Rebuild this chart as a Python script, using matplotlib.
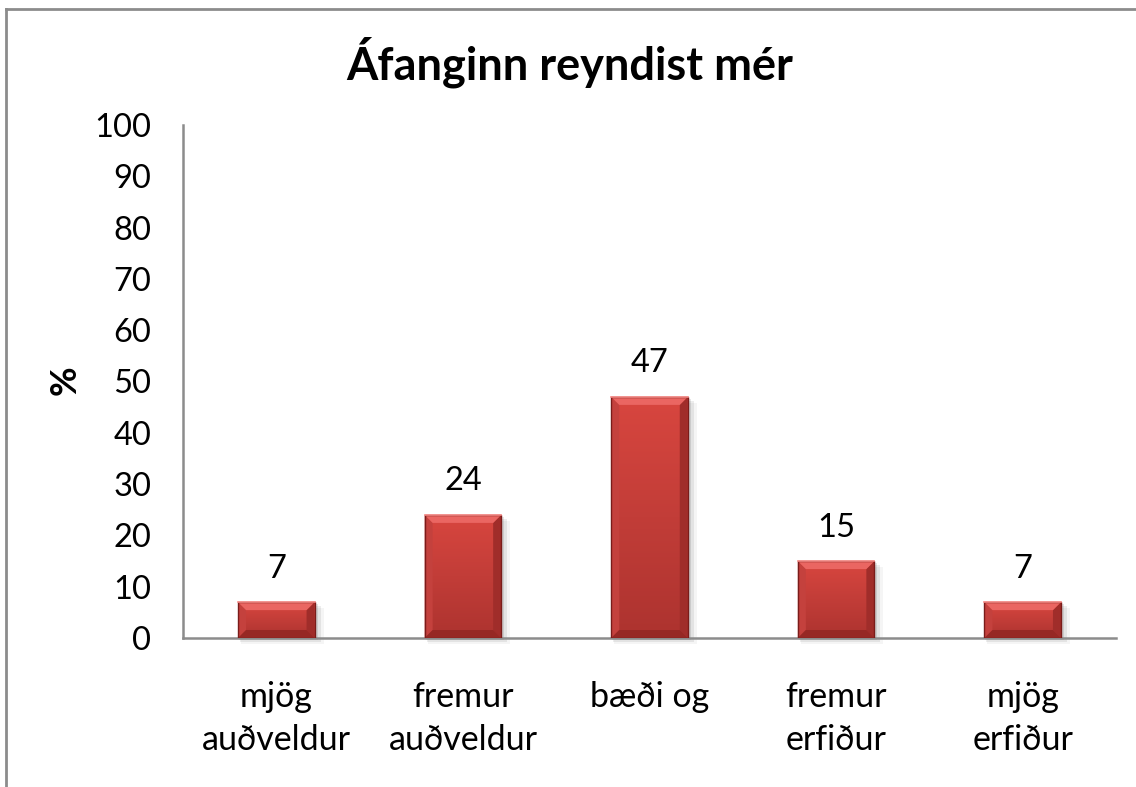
import matplotlib
matplotlib.use("Agg")
import matplotlib.pyplot as plt
import numpy as np
from matplotlib.patches import Polygon, Rectangle
from matplotlib.lines import Line2D
from matplotlib.colors import LinearSegmentedColormap

categories = ["mjög\nauðveldur", "fremur\nauðveldur", "bæði og", "fremur\nerfiður", "mjög\nerfiður"]
values = [7, 24, 47, 15, 7]
yticks = [0, 10, 20, 30, 40, 50, 60, 70, 80, 90, 100]
title = "Áfanginn reyndist mér"
ylabel = "%"

plt.rcParams['font.family'] = ['Lato', 'DejaVu Sans']

fig = plt.figure(figsize=(11.36, 7.87), dpi=100)
ax = fig.add_axes([0.1611, 0.1893, 0.8213, 0.6519])

x = np.arange(len(values))
bars = ax.bar(x, values, width=0.41, color="#c43c38", zorder=3)

ax.set_xlim(-0.5, len(values) - 0.5)
ax.set_ylim(0, 100)
ax.set_yticks(yticks)
ax.set_xticks(x)
ax.set_xticklabels(categories, fontsize=24.5, linespacing=1.42)
ax.tick_params(axis='both', length=0)
ax.tick_params(axis='y', labelsize=23.5, pad=23)
ax.tick_params(axis='x', pad=31)
for s in ['top', 'right']:
    ax.spines[s].set_visible(False)
for s in ['left', 'bottom']:
    ax.spines[s].set_color('#8c8c8c')
    ax.spines[s].set_linewidth(1.8)

fig.canvas.draw()
p0 = ax.transData.transform((0, 0))
p1 = ax.transData.transform((1, 1))
sx = 1.0 / (p1[0] - p0[0])
sy = 1.0 / (p1[1] - p0[1])
bx = 8 * sx
by = 8 * sy

cmap = LinearSegmentedColormap.from_list('r', ['#d8463f', '#c23d38', '#ad332f'])

for b in bars:
    x0 = b.get_x(); w = b.get_width(); h = b.get_height()
    x1 = x0 + w
    for k, a in enumerate([0.10, 0.07, 0.04]):
        off = (k + 1) * 2
        ax.add_patch(Rectangle((x0 + off * sx * 0.5, -off * sy), w + off * sx, h,
                               color='black', alpha=a, lw=0, zorder=2, clip_on=False))
    grad = np.linspace(0, 1, 100).reshape(-1, 1)
    im = ax.imshow(grad, extent=(x0, x1, 0, h), cmap=cmap, aspect='auto', zorder=3.1,
                   origin='upper')
    im.set_clip_path(b)
    ax.add_patch(Polygon([(x0, h), (x1, h), (x1 - bx, h - by), (x0 + bx, h - by)],
                         closed=True, color='#ea6662', lw=0, zorder=3.5))
    ax.add_patch(Polygon([(x0, h), (x0 + bx, h - by), (x0 + bx, by), (x0, 0)],
                         closed=True, color='#c4413d', lw=0, zorder=3.4))
    ax.add_patch(Polygon([(x1, h), (x1 - bx, h - by), (x1 - bx, by), (x1, 0)],
                         closed=True, color='#a02d2a', lw=0, zorder=3.4))
    ax.add_patch(Polygon([(x0, 0), (x1, 0), (x1 - bx, by), (x0 + bx, by)],
                         closed=True, color='#962824', lw=0, zorder=3.4))
    ax.add_patch(Rectangle((x0, 0), w, h, fill=False, ec='#7a1c1a', lw=1.0, zorder=3.6))
    ax.add_line(Line2D([x0, x1], [h, h], color='#f58a86', lw=1.2, zorder=3.7))
    ax.text(x0 + w / 2, h + 3.6, f"{h:g}", ha='center', va='bottom', fontsize=23.5, zorder=5)

ax.set_xlim(-0.5, len(values) - 0.5)
ax.set_ylim(0, 100)

fig.text(0.5017, 0.921, title, ha='center', va='center', fontsize=32.5, fontweight='bold')
fig.text(0.057, 0.517, ylabel, ha='center', va='center', fontsize=26, fontweight='bold',
         rotation=90)

fig.add_artist(Line2D([0.0053, 0.0053], [0, 0.989], transform=fig.transFigure,
                      color='#8c8c8c', lw=2))
fig.add_artist(Line2D([0.0053, 1.0], [0.989, 0.989], transform=fig.transFigure,
                      color='#8c8c8c', lw=2))

fig.savefig("out.png", dpi=100)
